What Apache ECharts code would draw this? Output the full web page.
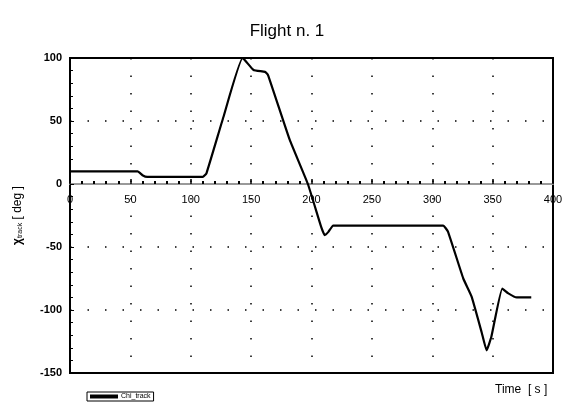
<!DOCTYPE html>
<html><head><meta charset="utf-8">
<script src="https://cdn.jsdelivr.net/npm/echarts@6/dist/echarts.min.js"></script>
<style>html,body{margin:0;padding:0;background:#fff}#c{width:574px;height:405px}</style>
</head><body><div id="c"></div>
<script>
var titleText = 'Flight n. 1';
var seriesName = 'Chi_track';
var timeS = [0, 56, 60, 64, 110, 113, 127, 143, 152, 161.5, 164, 182, 197, 208, 211, 214, 218, 309, 313, 325.7, 332.6, 341, 345, 349, 358, 363, 370, 382];
var chiDeg = [10, 10, 7, 5.6, 5.6, 8.5, 53, 100, 90.5, 89, 86.5, 35, 0, -34, -40.5, -38, -33, -33, -37.8, -75, -89.4, -118, -132, -121, -83, -86.8, -90, -90];
var xTicks = [0, 50, 100, 150, 200, 250, 300, 350, 400];
var yTicks = [-150, -100, -50, 0, 50, 100];

var gridTop = 58, gridBottom = 32, H = 405;
var plotH = H - gridTop - gridBottom;
var yMin = yTicks[0], yMax = yTicks[yTicks.length-1];
var zeroOffset = -plotH * (0 - yMin) / (yMax - yMin);

var pts = timeS.map(function(t, i){ return [t, chiDeg[i]]; });
var chart = echarts.init(document.getElementById('c'));
chart.setOption({
  animation: false,
  title: { text: titleText, left: 'center', top: 18, textStyle: { fontFamily: 'Liberation Sans', fontWeight: 'normal', fontSize: 17, color: '#000' } },
  grid: { left: 70, right: 21, top: gridTop, bottom: gridBottom, show: true, borderColor: '#000', borderWidth: 2, backgroundColor: 'transparent' },
  legend: { left: 87, top: 392, itemWidth: 28, itemHeight: 4, padding: [1, 3, 1, 3], borderColor: '#000', borderWidth: 1, itemGap: 2,
    textStyle: { fontSize: 7, fontFamily: 'Liberation Sans', color: '#000', padding: [0,0,0,-2] }, icon: 'rect', data: [seriesName] },
  xAxis: {
    type: 'value', min: xTicks[0], max: xTicks[xTicks.length-1], interval: 50, offset: zeroOffset,
    axisLine: { onZero: false, lineStyle: { color: '#999', width: 2 } },
    axisTick: { show: true, inside: true, length: 5, lineStyle: { color: '#000', width: 1.5 } },
    minorTick: { show: true, splitNumber: 5, length: 3, lineStyle: { color: '#000', width: 2 } },
    axisLabel: { color: '#000', fontSize: 11, fontFamily: 'Liberation Sans', margin: 10, showMaxLabel: true, showMinLabel: true },
    splitLine: { show: true, lineStyle: { color: '#000', width: 1.5, type: [1.5, 16] } }
  },
  yAxis: {
    type: 'value', min: yMin, max: yMax, interval: 50,
    axisLine: { show: true, lineStyle: { color: '#000', width: 2 } },
    axisTick: { show: true, inside: true, length: 4, lineStyle: { color: '#000' } },
    minorTick: { show: true, splitNumber: 5, length: 3, lineStyle: { color: '#000', width: 1 } },
    axisLabel: { color: '#000', fontSize: 11, fontWeight: 'bold', fontFamily: 'Liberation Sans', margin: 8 },
    splitLine: { show: true, lineStyle: { color: '#000', width: 1.5, type: [1.5, 16] } },
    name: '{a|χ}{b|track}{c| [ deg ]}', nameLocation: 'middle', nameGap: 46, nameRotate: 90,
    nameTextStyle: { rich: {
      a: { fontSize: 12, fontFamily: 'Liberation Sans', color: '#000', fontWeight: 'bold' },
      b: { fontSize: 7, fontFamily: 'Liberation Sans', color: '#000', verticalAlign: 'bottom', padding: [4,0,0,0] },
      c: { fontSize: 12, fontFamily: 'Liberation Sans', color: '#000' } } }
  },
  graphic: [{ type: 'text', left: 495, top: 384, style: { text: 'Time  [ s ]', font: '12px "Liberation Sans"', fill: '#000' } }],
  series: [{ name: seriesName, type: 'line', data: pts, showSymbol: false, smooth: 0.12,
    lineStyle: { color: '#000', width: 2.2 }, itemStyle: { color: '#000' } }]
});
</script></body></html>
